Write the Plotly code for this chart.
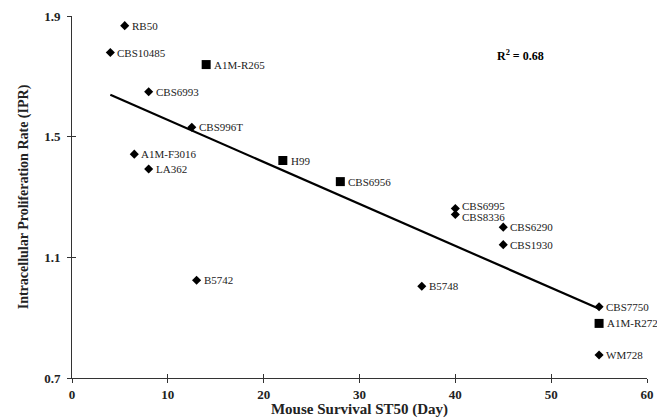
import numpy as np
import plotly.graph_objects as go

# Data
strains = ["RB50", "CBS10485", "A1M-R265", "CBS6993", "CBS996T", "A1M-F3016", "LA362",
           "H99", "CBS6956", "B5742", "CBS6995", "CBS8336", "CBS6290", "CBS1930",
           "B5748", "CBS7750", "A1M-R272", "WM728"]
st50_days = [5.5, 4, 14, 8, 12.5, 6.5, 8, 22, 28, 13, 40, 40, 45, 45, 36.5, 55, 55, 55]
ipr = [1.868, 1.779, 1.739, 1.649, 1.531, 1.442, 1.393, 1.421, 1.351, 1.024,
       1.262, 1.242, 1.200, 1.142, 1.004, 0.936, 0.881, 0.776]
marker_kind = ["diamond", "diamond", "square", "diamond", "diamond", "diamond", "diamond",
               "square", "square", "diamond", "diamond", "diamond", "diamond", "diamond",
               "diamond", "diamond", "square", "diamond"]
x_ticks = [0, 10, 20, 30, 40, 50, 60]
y_ticks = [0.7, 1.1, 1.5, 1.9]
r2_text = "R<sup>2</sup> = 0.68"

FONT = "Liberation Serif"
# small vertical nudges (pixels) to separate crowded labels
label_nudge = {"CBS6995": 2, "CBS8336": -2}

x = np.array(st50_days)
y = np.array(ipr)
slope, intercept = np.polyfit(x, y, 1)
fit_x = np.array([x.min(), x.max()])
fit_y = slope * fit_x + intercept

fig = go.Figure()

# regression line
fig.add_trace(go.Scatter(x=fit_x, y=fit_y, mode="lines",
                         line=dict(color="black", width=2.2), showlegend=False,
                         hoverinfo="skip"))

for kind in ["diamond", "square"]:
    idx = [i for i, k in enumerate(marker_kind) if k == kind]
    fig.add_trace(go.Scatter(
        x=[st50_days[i] for i in idx],
        y=[ipr[i] for i in idx],
        mode="markers",
        cliponaxis=False,
        marker=dict(symbol=kind, color="black", size=7 if kind == "diamond" else 9,
                    line=dict(width=0)),
        showlegend=False,
    ))

for name, xv, yv, kind in zip(strains, st50_days, ipr, marker_kind):
    fig.add_annotation(x=xv, y=yv, text=name, showarrow=False,
                       xanchor="left", yanchor="middle",
                       xshift=5 if kind == "diamond" else 6,
                       yshift=label_nudge.get(name, 0),
                       font=dict(family=FONT, size=11, color="#222"))

# invisible trace to activate overlay axes (for crossing ticks)
fig.add_trace(go.Scatter(x=[None], y=[None], xaxis="x2", yaxis="y2",
                         mode="markers", showlegend=False, hoverinfo="skip"))

fig.add_annotation(x=46.8, y=1.77, text=r2_text, showarrow=False,
                   font=dict(family=FONT, size=12, color="black", weight="bold"))

axis_common = dict(showgrid=False, zeroline=False, showline=True, linecolor="#333",
                   linewidth=1, tickcolor="#333", ticklen=4, tickwidth=1,
                   automargin=False)

fig.update_layout(
    width=657, height=418,
    margin=dict(l=72, r=10, t=16, b=40),
    paper_bgcolor="white", plot_bgcolor="white",
    xaxis=dict(range=[0, 60], tickvals=x_ticks, ticks="outside",
               tickfont=dict(family=FONT, size=13, color="#222", weight="bold"),
               title=dict(text="Mouse Survival ST50 (Day)", standoff=4,
                          font=dict(family=FONT, size=15, color="#222", weight="bold")),
               **axis_common),
    yaxis=dict(range=[0.7, 1.9], tickvals=y_ticks, ticks="outside",
               tickformat=".1f", ticklabelstandoff=4,
               tickfont=dict(family=FONT, size=13, color="#222", weight="bold"),
               title=dict(text="Intracellular Proliferation Rate (IPR)", standoff=12,
                          font=dict(family=FONT, size=14, color="#222", weight="bold")),
               **axis_common),
    xaxis2=dict(range=[0, 60], tickvals=x_ticks, ticks="inside", overlaying="x",
                showticklabels=False, anchor="y2", **axis_common),
    yaxis2=dict(range=[0.7, 1.9], tickvals=y_ticks, ticks="inside", overlaying="y",
                showticklabels=False, anchor="x2", **axis_common),
)

fig.write_html("out.html")
